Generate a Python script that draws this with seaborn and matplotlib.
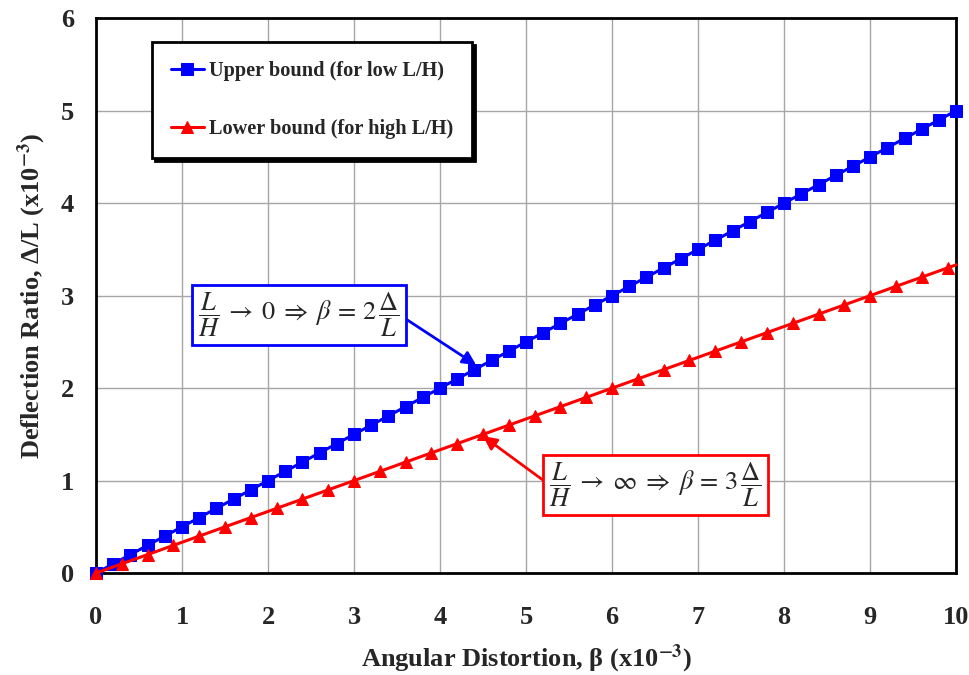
import matplotlib
matplotlib.use("Agg")
import matplotlib.pyplot as plt
import seaborn as sns
import pandas as pd

# Upper bound (low L/H): beta = 2 * delta/L
upper_beta = [0.0, 0.2, 0.4, 0.6, 0.8, 1.0, 1.2, 1.4, 1.6, 1.8,
              2.0, 2.2, 2.4, 2.6, 2.8, 3.0, 3.2, 3.4, 3.6, 3.8,
              4.0, 4.2, 4.4, 4.6, 4.8, 5.0, 5.2, 5.4, 5.6, 5.8,
              6.0, 6.2, 6.4, 6.6, 6.8, 7.0, 7.2, 7.4, 7.6, 7.8,
              8.0, 8.2, 8.4, 8.6, 8.8, 9.0, 9.2, 9.4, 9.6, 9.8, 10.0]
upper_ratio = [0.0, 0.1, 0.2, 0.3, 0.4, 0.5, 0.6, 0.7, 0.8, 0.9,
               1.0, 1.1, 1.2, 1.3, 1.4, 1.5, 1.6, 1.7, 1.8, 1.9,
               2.0, 2.1, 2.2, 2.3, 2.4, 2.5, 2.6, 2.7, 2.8, 2.9,
               3.0, 3.1, 3.2, 3.3, 3.4, 3.5, 3.6, 3.7, 3.8, 3.9,
               4.0, 4.1, 4.2, 4.3, 4.4, 4.5, 4.6, 4.7, 4.8, 4.9, 5.0]

# Lower bound (high L/H): beta = 3 * delta/L (last point ends the line, no marker)
lower_beta = [0.0, 0.3, 0.6, 0.9, 1.2, 1.5, 1.8, 2.1, 2.4, 2.7,
              3.0, 3.3, 3.6, 3.9, 4.2, 4.5, 4.8, 5.1, 5.4, 5.7,
              6.0, 6.3, 6.6, 6.9, 7.2, 7.5, 7.8, 8.1, 8.4, 8.7,
              9.0, 9.3, 9.6, 9.9, 10.0]
lower_ratio = [0.0, 0.1, 0.2, 0.3, 0.4, 0.5, 0.6, 0.7, 0.8, 0.9,
               1.0, 1.1, 1.2, 1.3, 1.4, 1.5, 1.6, 1.7, 1.8, 1.9,
               2.0, 2.1, 2.2, 2.3, 2.4, 2.5, 2.6, 2.7, 2.8, 2.9,
               3.0, 3.1, 3.2, 3.3, 3.333]

x_ticks = [0, 1, 2, 3, 4, 5, 6, 7, 8, 9, 10]
y_ticks = [0, 1, 2, 3, 4, 5, 6]

upper_label = "Upper bound (for low L/H)"
lower_label = "Lower bound (for high L/H)"
upper_note = r"$\dfrac{L}{H}\:\rightarrow\: 0 \;\Rightarrow\; \beta \,=\, 2\,\dfrac{\Delta}{L}$"
lower_note = r"$\dfrac{L}{H}\:\rightarrow\: \infty \;\Rightarrow\; \beta \,=\, 3\,\dfrac{\Delta}{L}$"

sns.set_style("white")
plt.rcParams["font.family"] = ["Liberation Serif", "DejaVu Serif"]
plt.rcParams["mathtext.fontset"] = "stix"

fig = plt.figure(figsize=(9.7, 6.75), dpi=100)
ax = fig.add_axes([0.099, 0.151, 0.8867, 0.822])

upper_df = pd.DataFrame({"beta": upper_beta, "ratio": upper_ratio})
lower_df = pd.DataFrame({"beta": lower_beta, "ratio": lower_ratio})

sns.lineplot(data=upper_df, x="beta", y="ratio", ax=ax, color="#0000ff",
             marker="s", markersize=8, markeredgecolor="#0000ff", linewidth=2.2,
             label=upper_label, clip_on=False, zorder=4)
sns.lineplot(data=lower_df, x="beta", y="ratio", ax=ax, color="#ff0000",
             marker="^", markersize=9, markeredgecolor="#ff0000", linewidth=2.2,
             markevery=list(range(len(lower_beta) - 1)),
             label=lower_label, clip_on=False, zorder=4)

ax.set_xlim(0, 10)
ax.set_ylim(0, 6)
ax.set_xticks(x_ticks)
ax.set_yticks(y_ticks)
ax.grid(True, color="#a6a6a6", linewidth=1.0)
ax.set_axisbelow(True)
for s in ax.spines.values():
    s.set_color("black")
    s.set_linewidth(2.0)
ax.tick_params(axis="both", direction="in", length=6, width=1.2, color="black",
               labelsize=19)
ax.tick_params(axis="x", pad=24)
ax.tick_params(axis="y", pad=16)
for lab in ax.get_xticklabels() + ax.get_yticklabels():
    lab.set_fontweight("bold")

ax.set_xlabel(r"Angular Distortion, β (x10$^{\mathbf{-3}}$)", fontsize=19,
              fontweight="bold")
ax.set_ylabel(r"Deflection Ratio, Δ/L (x10$^{\mathbf{-3}}$)", fontsize=19,
              fontweight="bold")
ax.xaxis.set_label_coords(0.5, -0.125)
ax.yaxis.set_label_coords(-0.056, 0.5)

leg = ax.legend(loc="upper left", bbox_to_anchor=(0.065, 0.957), frameon=True,
                fancybox=False, shadow={"color": "black", "alpha": 1.0},
                prop={"family": "Liberation Serif", "weight": "bold", "size": 14.6},
                handlelength=1.6, labelspacing=1.85, borderpad=0.95,
                handletextpad=0.25, borderaxespad=0)
leg.get_frame().set_edgecolor("black")
leg.get_frame().set_linewidth(2.0)
leg.get_frame().set_alpha(1.0)
leg.set_zorder(6)

ax.annotate(upper_note, xy=(4.42, 2.25), xytext=(2.36, 2.79),
            textcoords="data", fontsize=19, ha="center", va="center", zorder=7,
            bbox=dict(boxstyle="square,pad=0.22", fc="white", ec="#0000ff", lw=2),
            arrowprops=dict(arrowstyle="-|>", color="#0000ff", lw=2,
                            mutation_scale=20, relpos=(1.0, 0.5),
                            shrinkA=0, shrinkB=0))
ax.annotate(lower_note, xy=(4.5, 1.48), xytext=(6.505, 0.957),
            textcoords="data", fontsize=19, ha="center", va="center", zorder=7,
            bbox=dict(boxstyle="square,pad=0.22", fc="white", ec="#ff0000", lw=2),
            arrowprops=dict(arrowstyle="-|>", color="#ff0000", lw=2,
                            mutation_scale=20, relpos=(0.0, 0.5),
                            shrinkA=0, shrinkB=0))

fig.savefig("out.png", dpi=100)
